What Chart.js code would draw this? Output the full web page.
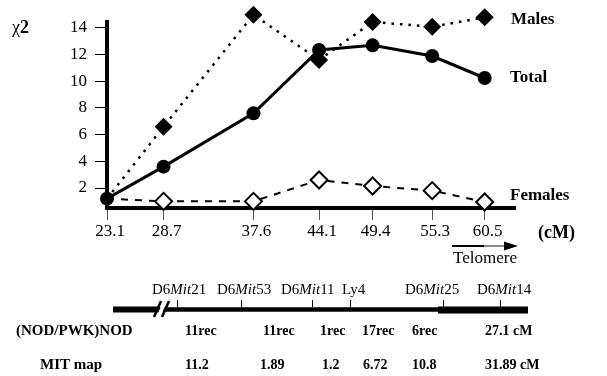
<!DOCTYPE html>
<html><head><meta charset="utf-8">
<script src="https://cdn.jsdelivr.net/npm/chart.js@4"></script>
<style>html,body{margin:0;padding:0;background:#fff;overflow:hidden}</style>
</head><body>
<canvas id="c" width="607" height="376"></canvas>
<script>
const positionsCM = [23.1, 28.7, 37.6, 44.1, 49.4, 55.3, 60.5];
const totalChi2 = [1.2, 3.6, 7.6, 12.35, 12.7, 11.9, 10.25];
const malesChi2 = [1.2, 6.6, 15.0, 11.6, 14.45, 14.1, 14.8];
const femalesChi2 = [1.2, 1.0, 1.0, 2.6, 2.15, 1.8, 0.95];
const yTicks = [2, 4, 6, 8, 10, 12, 14];
const seriesNames = ['Total', 'Males', 'Females'];
const markerNames = [['D6', 'Mit', '21'], ['D6', 'Mit', '53'], ['D6', 'Mit', '11'], ['Ly4', '', ''], ['D6', 'Mit', '25'], ['D6', 'Mit', '14']];
const nodRow = ['11rec', '11rec', '1rec', '17rec', '6rec', '27.1 cM'];
const mitRow = ['11.2', '1.89', '1.2', '6.72', '10.8', '31.89 cM'];

const FAM = '"Liberation Serif","Times New Roman",serif';

const annot = {
  id: 'annot',
  afterDraw(chart) {
    const ctx = chart.ctx;
    ctx.save();
    ctx.fillStyle = '#000';
    ctx.textBaseline = 'middle';
    const txt = (s, x, y, font, align) => {
      ctx.font = font; ctx.textAlign = align || 'left'; ctx.fillText(s, x, y);
    };
    // series labels
    txt(seriesNames[1], 511, 20, 'bold 17px ' + FAM);
    txt(seriesNames[0], 510, 78, 'bold 17px ' + FAM);
    txt(seriesNames[2], 510, 196, 'bold 17px ' + FAM);
    txt('(cM)', 538, 233, 'bold 18px ' + FAM);
    txt('\u03C7', 12, 28, '18px ' + FAM);
    ctx.font = '18px ' + FAM;
    const cw = ctx.measureText('\u03C7').width;
    txt('2', 12 + cw, 28, 'bold 18px ' + FAM);

    // telomere arrow
    ctx.lineWidth = 2;
    ctx.strokeStyle = '#000';
    ctx.beginPath(); ctx.moveTo(452, 246); ctx.lineTo(484, 246); ctx.stroke();
    ctx.strokeStyle = '#888';
    ctx.beginPath(); ctx.moveTo(484, 246); ctx.lineTo(507, 246); ctx.stroke();
    ctx.beginPath(); ctx.moveTo(504, 241.5); ctx.lineTo(518, 246); ctx.lineTo(504, 250.5); ctx.closePath(); ctx.fill();
    txt('Telomere', 485, 259, '17px ' + FAM, 'center');

    // map line
    ctx.strokeStyle = '#000';
    ctx.lineWidth = 6;
    ctx.beginPath(); ctx.moveTo(113, 309.5); ctx.lineTo(160, 309.5); ctx.stroke();
    ctx.lineWidth = 4.5;
    ctx.beginPath(); ctx.moveTo(160, 309.5); ctx.lineTo(440, 309.5); ctx.stroke();
    ctx.lineWidth = 7;
    ctx.beginPath(); ctx.moveTo(438, 310); ctx.lineTo(528, 310); ctx.stroke();
    // break slashes
    ctx.fillStyle = '#fff';
    ctx.beginPath(); ctx.moveTo(157, 316); ctx.lineTo(163, 301); ctx.lineTo(167, 301); ctx.lineTo(161, 316); ctx.closePath(); ctx.fill();
    ctx.fillStyle = '#000';
    ctx.lineWidth = 2.5;
    ctx.beginPath(); ctx.moveTo(154, 317); ctx.lineTo(161, 301); ctx.stroke();
    ctx.beginPath(); ctx.moveTo(162, 317); ctx.lineTo(169, 301); ctx.stroke();

    // marker ticks and labels
    const tickX = [177, 241, 312, 350, 443, 500];
    const labX = [152, 217, 281, 342, 405, 477];
    ctx.lineWidth = 1;
    tickX.forEach(x => { ctx.beginPath(); ctx.moveTo(x + 0.5, 300); ctx.lineTo(x + 0.5, 307); ctx.stroke(); });
    markerNames.forEach((parts, i) => {
      let x = labX[i];
      const fonts = ['15px ' + FAM, 'italic 15px ' + FAM, '15px ' + FAM];
      parts.forEach((p, j) => {
        if (!p) return;
        ctx.font = fonts[j];
        ctx.textAlign = 'left';
        ctx.fillText(p, x, 290);
        x += ctx.measureText(p).width;
      });
    });

    // table rows
    txt('(NOD/PWK)NOD', 16, 331, 'bold 15px ' + FAM);
    txt('MIT map', 40, 365, 'bold 15px ' + FAM);
    const nodX = [185, 263, 320, 362, 412, 485];
    const mitX = [185, 260, 322, 363, 412, 485];
    nodRow.forEach((s, i) => txt(s, nodX[i], 331, 'bold 14px ' + FAM));
    mitRow.forEach((s, i) => txt(s, mitX[i], 365, 'bold 14px ' + FAM));
    ctx.restore();
  }
};

const pts = arr => positionsCM.map((x, i) => ({ x: x, y: arr[i] }));

new Chart(document.getElementById('c'), {
  type: 'line',
  data: {
    datasets: [
      { label: seriesNames[0], data: pts(totalChi2), borderColor: '#000', backgroundColor: '#000',
        borderWidth: 3, pointStyle: 'circle', pointRadius: 7, pointBackgroundColor: '#000',
        pointBorderColor: '#000', pointBorderWidth: 0, clip: false },
      { label: seriesNames[1], data: pts(malesChi2), borderColor: '#000', backgroundColor: '#000',
        borderWidth: 2.5, borderDash: [2.5, 6], pointStyle: 'rectRot', pointRadius: [0, 9, 9, 9, 9, 9, 9],
        pointBackgroundColor: '#000', pointBorderColor: '#000', pointBorderWidth: 0, clip: false },
      { label: seriesNames[2], data: pts(femalesChi2), borderColor: '#000', backgroundColor: '#fff',
        borderWidth: 2, borderDash: [7, 7], pointStyle: 'rectRot', pointRadius: [0, 8.5, 8.5, 8.5, 8.5, 8.5, 8.5],
        pointBackgroundColor: '#fff', pointBorderColor: '#000', pointBorderWidth: 2, clip: false }
    ]
  },
  options: {
    responsive: false, animation: false, devicePixelRatio: 1,
    layout: { padding: { left: 0, top: 22, right: 92, bottom: 128 } },
    plugins: { legend: { display: false }, tooltip: { enabled: false } },
    elements: { line: { tension: 0 } },
    scales: {
      x: {
        type: 'linear', min: 23.1, max: 63.5,
        afterBuildTicks: a => { a.ticks = positionsCM.map(v => ({ value: v })); },
        afterFit: a => { a.height = 40; },
        grid: { drawOnChartArea: false, drawTicks: true, tickLength: 12, color: '#555', lineWidth: 1 },
        border: { display: true, color: '#000', width: 4 },
        ticks: { color: '#000', font: { family: FAM, size: 17 }, padding: 1, labelOffset: 3,
          maxRotation: 0, autoSkip: false, callback: v => Number(v).toFixed(1) }
      },
      y: {
        type: 'linear', min: 0.5, max: 14.45,
        afterBuildTicks: a => { a.ticks = yTicks.map(v => ({ value: v })); },
        afterFit: a => { a.width = 107; },
        grid: { drawOnChartArea: false, drawTicks: true, tickLength: 12, color: '#000', lineWidth: 1 },
        border: { display: true, color: '#000', width: 4 },
        ticks: { color: '#000', font: { family: FAM, size: 17 }, padding: 8, autoSkip: false }
      }
    }
  },
  plugins: [annot]
});
</script>
</body></html>
